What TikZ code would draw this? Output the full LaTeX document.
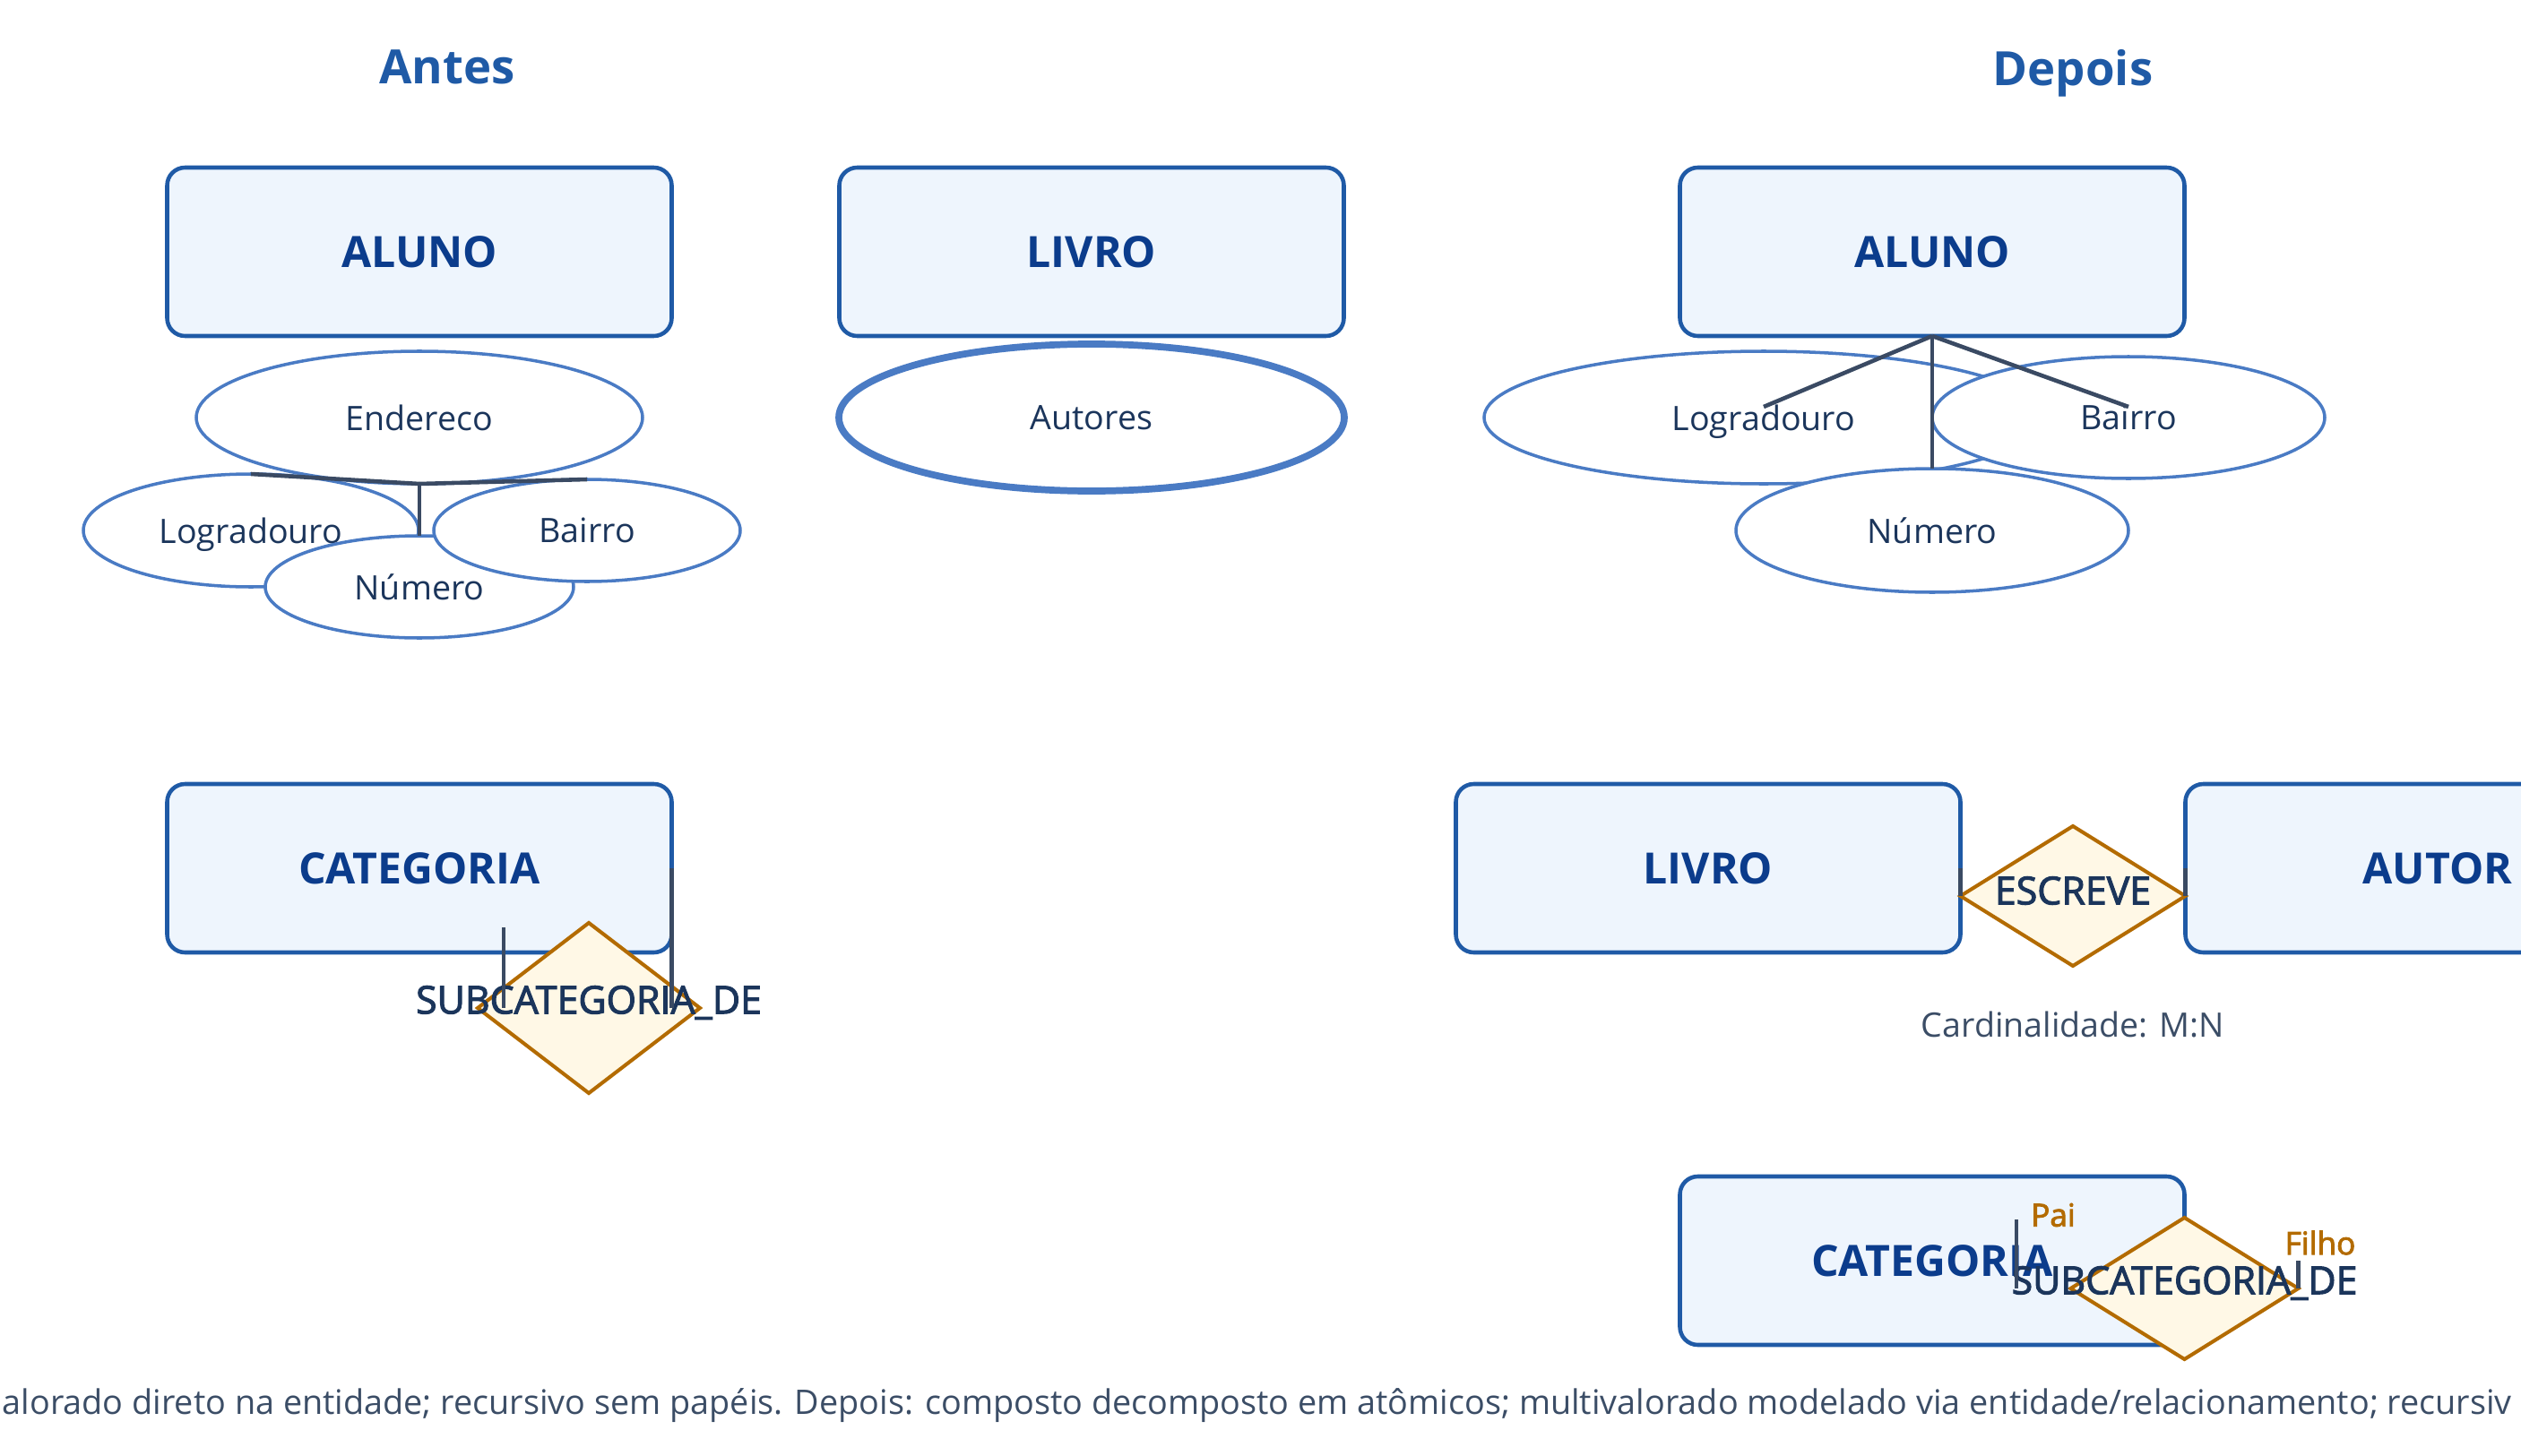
\documentclass[tikz,border=0pt]{standalone}
\usepackage{fontspec}
\setmainfont{Open Sans}
\newfontfamily\semibold[FakeBold=2.5]{Open Sans}
\usetikzlibrary{positioning, shapes.geometric}

\definecolor{entborda}{HTML}{1F5AA6}
\definecolor{entfundo}{HTML}{EEF5FD}
\definecolor{enttexto}{HTML}{0B3C8C}
\definecolor{atrborda}{HTML}{4A7BC4}
\definecolor{atrtexto}{HTML}{1B355B}
\definecolor{relborda}{HTML}{B36B00}
\definecolor{relfundo}{HTML}{FFF8E6}
\definecolor{linha}{HTML}{3A4A63}
\definecolor{nota}{HTML}{3B4D66}

\begin{document}
\begin{tikzpicture}[every node/.style={font=\fontsize{10.7}{12}\selectfont, text=atrtexto},
    entidade/.style={rectangle, draw=entborda, line width=1.3pt, fill=entfundo, rounded corners=0.2cm, outer sep=0pt,
        minimum width=5.63cm, minimum height=1.88cm, font=\fontsize{13.7}{15}\selectfont\bfseries, text=enttexto},
    atributo/.style={ellipse, draw=atrborda, line width=1pt, fill=white, inner sep=0pt, outer sep=0pt, text depth=0pt},
    relacao/.style={diamond, draw=relborda, line width=1.15pt, fill=relfundo, inner sep=0pt, outer sep=0pt},
    rotulo/.style={font=\fontsize{12.2}{14}\selectfont\semibold, text=atrtexto},
    papel/.style={font=\fontsize{10}{12}\selectfont\semibold, text=relborda},
    titulo/.style={font=\fontsize{15}{18}\selectfont\bfseries, text=entborda, text depth=0pt},
    ligacao/.style={draw=linha, line width=1.3pt}]
    \useasboundingbox (0,0) rectangle (28.13,-16.25);
    \clip (0,0) rectangle (28.13,-16.25);
    \node[titulo](antes) at (4.99,-0.75){Antes};
    \node[titulo](depois) at (23.13,-0.75){Depois};
    % Antes
    \node[entidade](alunoA) at (4.68,-2.81){ALUNO};
    \node[entidade, right=1.87cm of alunoA](livroA){LIVRO};
    \node[atributo, minimum width=4.98cm, minimum height=1.48cm, below=0.17cm of alunoA](endereco){Endereco};
    \node[atributo, minimum width=3.74cm, minimum height=1.26cm](logrA) at (2.80,-5.92){Logradouro};
    \node[atributo, minimum width=3.44cm, minimum height=1.14cm, below=0.58cm of endereco](numA){Número};
    \node[atributo, minimum width=3.42cm, minimum height=1.14cm](bairroA) at (6.55,-5.92){Bairro};
    \node[atributo, line width=2.2pt, minimum width=5.64cm, minimum height=1.64cm, below=0.09cm of livroA](autores){Autores};
    \node[entidade, below=5cm of alunoA](catA){CATEGORIA};
    \node[relacao, minimum width=2.48cm, minimum height=1.9cm,
        label={[rotulo, yshift=0.06cm]center:SUBCATEGORIA\_DE}](subA) at (6.57,-11.25){};
    \coordinate (pA) at (5.62,-10.35);
    \draw[ligacao] (endereco.south) -- (logrA.north);
    \draw[ligacao] (endereco.south) -- (bairroA.north);
    \draw[ligacao] (endereco.south) -- (numA.north);
    \draw[ligacao] (pA) -- (pA |- subA.center);
    \draw[ligacao] (catA.east) -- (catA.east |- subA.center);
    % Depois
    \node[entidade, right=3.75cm of livroA](alunoD){ALUNO};
    \node[atributo, minimum width=6.24cm, minimum height=1.48cm](logrD) at (19.68,-4.66){Logradouro};
    \node[atributo, minimum width=4.38cm, minimum height=1.36cm](bairroD) at (23.75,-4.66){Bairro};
    \node[atributo, minimum width=4.38cm, minimum height=1.38cm, below=1.48cm of alunoD](numD){Número};
    \draw[ligacao] (alunoD.south) -- ([yshift=0.12cm]logrD.center);
    \draw[ligacao] (alunoD.south) -- ([yshift=0.12cm]bairroD.center);
    \draw[ligacao] (alunoD.south) -- (numD.north);
    \node[entidade, right=8.75cm of catA](livroD){LIVRO};
    \node[entidade, right=2.51cm of livroD](autor){AUTOR};
    \node[relacao, anchor=west, minimum width=2.51cm, minimum height=1.56cm,
        label={[rotulo, yshift=0.06cm]center:ESCREVE}](escreve) at ([yshift=-0.31cm]livroD.east){};
    \node[below=0.39cm of escreve, text=nota](card){Cardinalidade: M:N};
    \draw[ligacao] (livroD.east) -- (escreve.west);
    \draw[ligacao] (escreve.east) -- (autor.west);
    \node[entidade, below=9.38cm of alunoD](catD){CATEGORIA};
    \node[relacao, minimum width=2.54cm, minimum height=1.58cm,
        label={[rotulo, yshift=0.06cm]center:SUBCATEGORIA\_DE}](subD) at ([yshift=-0.31cm]catD.east){};
    \coordinate (pD) at (22.50,-13.61);
    \draw[ligacao] (pD) -- (pD |- subD.center);
    \draw[ligacao] (subD.east |- catD.east) -- (subD.east);
    \node[papel](pai) at (22.91,-13.56){Pai};
    \node[papel](filho) at (25.89,-13.87){Filho};
    % Legenda
    \node[anchor=west, inner sep=0pt, text=nota, font=\fontsize{10.75}{12}\selectfont](legenda) at (0.02,-15.69){alorado direto na entidade; recursivo sem papéis. Depois: composto decomposto em atômicos; multivalorado modelado via entidade/relacionamento; recursiv};
\end{tikzpicture}
\end{document}
